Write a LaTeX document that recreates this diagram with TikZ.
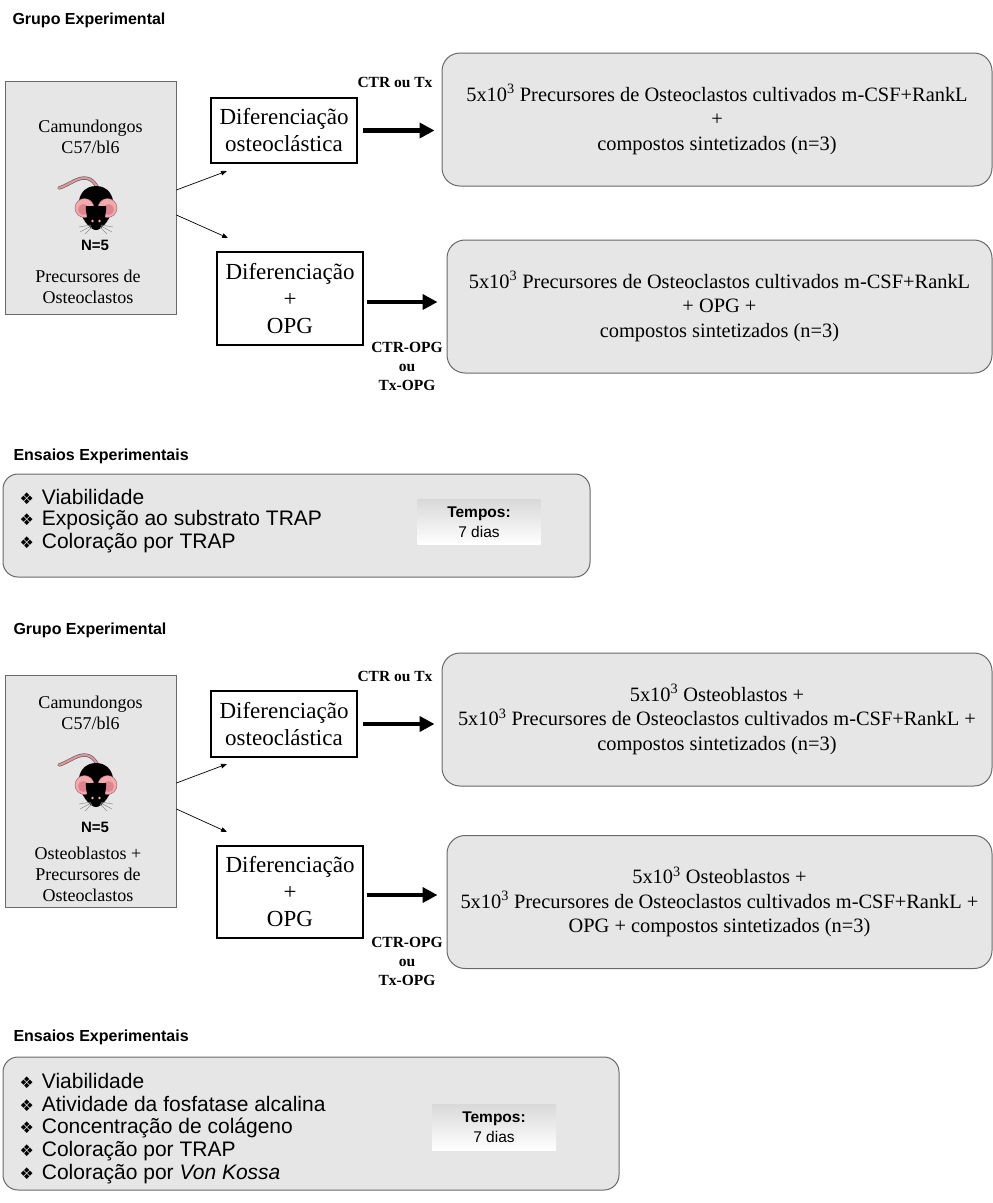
\documentclass[tikz,border=0pt]{standalone}
\usepackage{fontspec}
\setmainfont{Liberation Serif}
\setsansfont{Liberation Sans}
\newfontfamily\dejavu{DejaVu Sans}
\usetikzlibrary{arrows.meta,calc}

\definecolor{caixa}{RGB}{230,230,230}
\definecolor{borda}{RGB}{105,105,105}
\definecolor{orelha}{RGB}{242,170,175}
\definecolor{orelhain}{RGB}{222,132,142}
\definecolor{cauda}{RGB}{226,148,156}

\newcommand{\marca}{{\dejavu\fontsize{16}{16}\selectfont ❖}\hspace{8pt}}

% camundongo visto de cima, centrado entre as orelhas
\newcommand{\camundongo}[1]{%
  \begin{scope}[shift={(#1)}]
    \draw[line width=3.4,black!60,line cap=round] (2,-19) .. controls (-4,-33) and (-14,-31) .. (-22,-27) .. controls (-28,-24) and (-33,-21) .. (-37,-20);
    \draw[line width=2,cauda,line cap=round] (2,-19) .. controls (-4,-33) and (-14,-31) .. (-22,-27) .. controls (-28,-24) and (-33,-21) .. (-37,-20);
    \fill (0,-22) .. controls (12,-22) and (18,-12) .. (17,-3) .. controls (16,10) and (6,22) .. (0,22) .. controls (-6,22) and (-16,10) .. (-17,-3) .. controls (-18,-12) and (-12,-22) .. (0,-22);
    \foreach \s in {-1,1} {
      \filldraw[fill=orelha,draw=orelhain!70!black,line width=0.4] (11.5*\s,0) circle (9.5);
      \fill[orelhain] (12.5*\s,1.5) circle (5.5);
    }
    \fill (-10,-2) .. controls (-11,10) and (-4,22) .. (0,22) .. controls (4,22) and (11,10) .. (10,-2) -- cycle;
    \fill[orelha] (-3.5,13) circle (1.4) (3.5,13) circle (1.4);
    \draw[black!45,line width=0.5] (-5,17) -- (-17,19) (-5,18) -- (-16,24) (-4,19) -- (-11,26)
      (5,17) -- (17,19) (5,18) -- (16,24) (4,19) -- (11,26);
  \end{scope}}

\begin{document}
\begin{tikzpicture}[x=1pt,y=-1pt,
  grupo/.style={anchor=west,font=\sffamily\bfseries\fontsize{16}{18}\selectfont},
  animais/.style={draw=borda,fill=caixa,line width=0.8,minimum width=171,minimum height=233},
  animaltxt/.style={align=center,font=\fontsize{18}{21}\selectfont},
  nanimal/.style={font=\sffamily\bfseries\fontsize{15}{18}\selectfont},
  difbox/.style={draw,line width=2,minimum width=146,align=center,font=\fontsize{23}{27}\selectfont},
  cultura/.style={draw=borda,fill=caixa,line width=1,rounded corners=18,minimum width=550,minimum height=133,
    align=center,font=\fontsize{20.4}{24.5}\selectfont},
  grupoctr/.style={align=center,font=\bfseries\fontsize{15.5}{19}\selectfont},
  ensaios/.style={draw=borda,fill=caixa,line width=1,rounded corners=15},
  item/.style={anchor=west,font=\sffamily\fontsize{21}{23.5}\selectfont},
  tempos/.style={top color=black!15,bottom color=white,minimum width=123,minimum height=45,align=center,
    font=\sffamily\fontsize{15.5}{20}\selectfont},
  fino/.style={-{Triangle[length=6pt,width=4.5pt]},line width=0.7},
  grosso/.style={-{Triangle[length=15pt,width=15pt]},line width=4.5}]
  \useasboundingbox (0,0) rectangle (993,1203);

  % primeiro grupo: precursores de osteoclastos
  \node[grupo] (g1) at (9,20) {Grupo Experimental};
  \node[animais] (lb1) at (90.5,197.5) {};
  \node[animaltxt] (cam1) at (90.5,137) {Camundongos\\C57/bl6};
  \camundongo{96,208}
  \node[nanimal] (n1) at (95,245) {N=5};
  \node[animaltxt] (prec1) at (88,287) {Precursores de\\Osteoclastos};

  \node[difbox,minimum height=65] (dif1) at (284,130.5) {Diferenciação\\osteoclástica};
  \node[difbox,minimum height=93] (opg1) at (290,298.5) {Diferenciação\\+\\OPG};
  \draw[fino] ([yshift=7.5pt]lb1.east) -- ($(dif1.south west)+(17,7)$);
  \draw[fino] ([yshift=-17.5pt]lb1.east) -- ($(opg1.north west)+(12,-13)$);

  \node[cultura] (r1) at (717,119.5) {5x10\textsuperscript{3} Precursores de Osteoclastos cultivados m-CSF+RankL\\+\\compostos sintetizados (n=3)};
  \node[cultura,minimum width=545] (r2) at (719.5,306.5) {5x10\textsuperscript{3} Precursores de Osteoclastos cultivados m-CSF+RankL\\+ OPG +\\compostos sintetizados (n=3)};
  \draw[grosso] ([xshift=5pt]dif1.east) -- ([xshift=-7pt]dif1.east -| r1.west);
  \draw[grosso] ([xshift=3pt,yshift=-3.5pt]opg1.east) -- ([xshift=-9pt,yshift=-3.5pt]opg1.east -| r2.west);
  \node[grupoctr,anchor=east] (ctr1) at (436,82) {CTR ou Tx};
  \node[grupoctr] (ctropg1) at (407,366.5) {CTR-OPG\\ou\\Tx-OPG};

  \node[grupo] (e1) at (10,456) {Ensaios Experimentais};
  \node[ensaios,minimum width=587,minimum height=103] (lista1) at (296.5,525.5) {};
  \foreach \txt [count=\i] in {Viabilidade, Exposição ao substrato TRAP, Coloração por TRAP}
    \node[item] (ea\i) at (16,{473+23.5*\i}) {\marca\txt};
  \node[tempos] (t1) at (479,522) {\textbf{Tempos:}\\7 dias};

  % segundo grupo: co-cultura com osteoblastos
  \node[grupo] (g2) at (10,630) {Grupo Experimental};
  \node[animais,minimum height=232] (lb2) at (90.5,791) {};
  \node[animaltxt] (cam2) at (90.5,712.5) {Camundongos\\C57/bl6};
  \camundongo{96,785}
  \node[nanimal] (n2) at (95,827) {N=5};
  \node[animaltxt] (prec2) at (88,874) {Osteoblastos +\\Precursores de\\Osteoclastos};

  \node[difbox,minimum height=66] (dif2) at (284,724) {Diferenciação\\osteoclástica};
  \node[difbox,minimum height=92] (opg2) at (290,892) {Diferenciação\\+\\OPG};
  \draw[fino] ([yshift=8pt]lb2.east) -- ($(dif2.south west)+(17,6)$);
  \draw[fino] ([yshift=-18pt]lb2.east) -- ($(opg2.north west)+(11,-13)$);

  \node[cultura] (r3) at (717,719.5) {5x10\textsuperscript{3} Osteoblastos +\\5x10\textsuperscript{3} Precursores de Osteoclastos cultivados m-CSF+RankL +\\compostos sintetizados (n=3)};
  \node[cultura,minimum width=545] (r4) at (719.5,902) {5x10\textsuperscript{3} Osteoblastos +\\5x10\textsuperscript{3} Precursores de Osteoclastos cultivados m-CSF+RankL +\\OPG + compostos sintetizados (n=3)};
  \draw[grosso] ([xshift=5pt]dif2.east) -- ([xshift=-7pt]dif2.east -| r3.west);
  \draw[grosso] ([xshift=3pt,yshift=-3pt]opg2.east) -- ([xshift=-9pt,yshift=-3pt]opg2.east -| r4.west);
  \node[grupoctr,anchor=east] (ctr2) at (436,676) {CTR ou Tx};
  \node[grupoctr] (ctropg2) at (407,961) {CTR-OPG\\ou\\Tx-OPG};

  \node[grupo] (e2) at (10,1037) {Ensaios Experimentais};
  \node[ensaios,minimum width=616,minimum height=133] (lista2) at (311,1123.5) {};
  \foreach \txt [count=\i] in {Viabilidade, Atividade da fosfatase alcalina, Concentração de colágeno,
      Coloração por TRAP, {Coloração por \textit{Von Kossa}}}
    \node[item] (eb\i) at (16,{1057+23.5*\i}) {\marca\txt};
  \node[tempos,minimum width=124,minimum height=46] (t2) at (494,1127) {\textbf{Tempos:}\\7 dias};
\end{tikzpicture}
\end{document}
